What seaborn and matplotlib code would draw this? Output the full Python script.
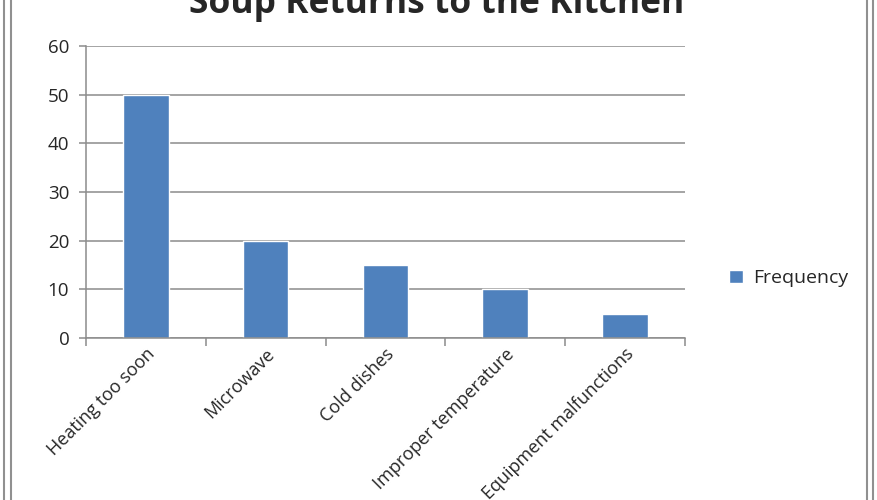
import matplotlib
matplotlib.use('Agg')
import matplotlib.pyplot as plt
import seaborn as sns
import pandas as pd
from matplotlib.lines import Line2D

#chart data
causes = ['Heating too soon', 'Microwave', 'Cold dishes', 'Improper temperature', 'Equipment malfunctions']
frequency = [50, 20, 15, 10, 5]
series = ['Frequency'] * len(causes)
y_ticks = [0, 10, 20, 30, 40, 50, 60]

df = pd.DataFrame({'cause': causes, 'freq': frequency, 'series': series})

sns.set_style('white')
plt.rcParams['font.family'] = ['Open Sans', 'DejaVu Sans']

fig = plt.figure(figsize=(8.77, 5), dpi=100)
ax = fig.add_axes([0.098, 0.324, 0.683, 0.584])

sns.barplot(data=df, x='cause', y='freq', hue='series', palette=['#4F81BD'],
            width=0.38, dodge=False, saturation=1, ax=ax)

ax.set_ylim(0, 60)
ax.set_xlim(-0.5, len(causes) - 0.5)
ax.set_yticks(y_ticks)
ax.yaxis.grid(True, color='#8c8c8c', linewidth=1.1)
ax.set_axisbelow(True)
ax.set_xlabel('')
ax.set_ylabel('')

for s in ['top', 'right']:
    ax.spines[s].set_visible(False)
for s in ['left', 'bottom']:
    ax.spines[s].set_color('#8c8c8c')
    ax.spines[s].set_linewidth(1.1)

# category-boundary ticks on x, like Excel
ax.set_xticks([i - 0.5 for i in range(len(causes) + 1)], minor=False)
ax.set_xticklabels([''] * (len(causes) + 1))
ax.tick_params(axis='x', which='major', length=6, color='#8c8c8c', width=1.1, direction='out', bottom=True)
ax.set_xticks(range(len(causes)), minor=True)
ax.set_xticklabels(causes, minor=True, rotation=45, ha='right', rotation_mode='anchor', fontsize=13)
ax.tick_params(axis='x', which='minor', length=0, pad=5)
ax.tick_params(axis='y', length=5, color='#8c8c8c', width=1.1, left=True, labelsize=13.5, pad=7)

ax.legend(loc='center left', bbox_to_anchor=(1.045, 0.205), frameon=False, fontsize=14,
          handlelength=0.7, handleheight=0.7, handletextpad=0.5)

fig.text(0.498, 0.974, 'Soup Returns to the Kitchen', ha='center', va='baseline',
         fontsize=25.5, fontweight='bold')

# sheet borders on the sides
for x in [0.004, 0.012, 0.989, 0.995]:
    fig.add_artist(Line2D([x, x], [0, 1], transform=fig.transFigure, color='#909090', linewidth=1.5))

fig.savefig('out.png', dpi=100)
